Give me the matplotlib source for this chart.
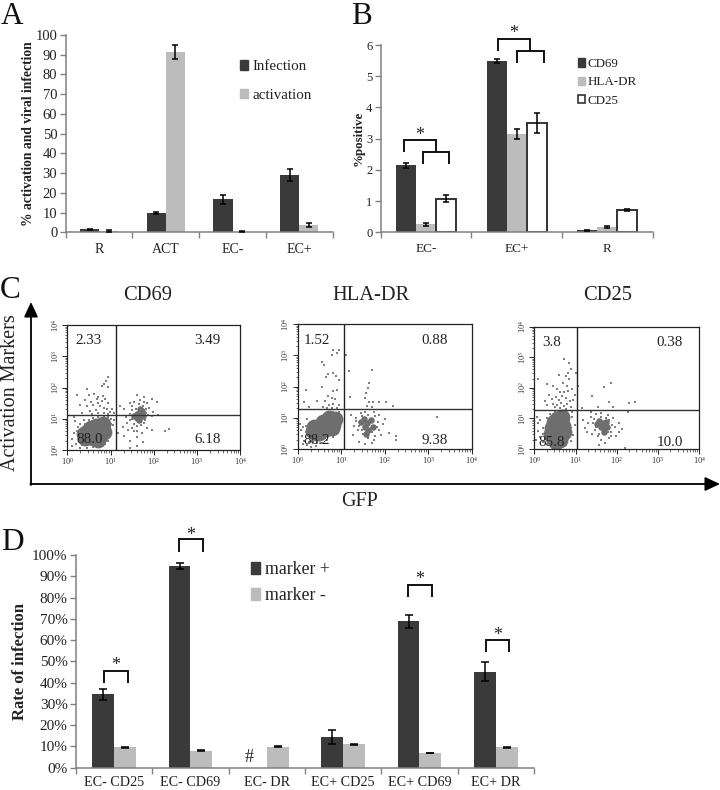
import numpy as np
import matplotlib
matplotlib.use("Agg")
import matplotlib.pyplot as plt
from matplotlib.patches import Patch

plt.rcParams['font.family'] = ['Liberation Serif', 'DejaVu Serif']
W, H = 720, 790
DARK, LIGHT, AXC, TXT = '#3a3a3a', '#bcbcbc', '#808080', '#222222'

# ---------- Panel A
a_cats = ['R', 'ACT', 'EC-', 'EC+']
a_infection = [1.5, 9.8, 16.7, 29.0]
a_activation = [0.5, 91.5, 0.4, 3.6]
a_inf_err = [0.4, 0.4, 2.3, 3.0]
a_act_err = [0.5, 3.5, 0.1, 0.9]

# ---------- Panel B
b_cats = ['EC-', 'EC+', 'R']
b_cd69 = [2.14, 5.49, 0.06]
b_hla = [0.26, 3.15, 0.17]
b_cd25 = [1.07, 3.50, 0.72]
b_cd69_err = [0.07, 0.07, 0.02]
b_hla_err = [0.05, 0.16, 0.02]
b_cd25_err = [0.11, 0.32, 0.03]

# ---------- Panel D
d_cats = ['EC- CD25', 'EC- CD69', 'EC- DR', 'EC+ CD25', 'EC+ CD69', 'EC+ DR']
d_pos = [34.5, 95.0, 0.0, 14.5, 68.8, 45.1]
d_neg = [9.6, 7.9, 9.9, 11.0, 6.9, 9.6]
d_pos_err = [2.7, 1.4, 0.0, 3.2, 3.0, 4.4]
d_neg_err = [0.2, 0.2, 0.2, 0.2, 0.2, 0.2]

# ---------- Panel C: event positions, in log10 units
c1_dense = [(.42,.40),(.50,.42),(.62,.55),(.72,.65),(.60,.38),(.80,.72),(.48,.60),(.75,.45),(.66,.78),
            (.55,.72),(.85,.58),(.70,.32),(.38,.52),(.82,.82)]
c1_core2 = [(1.68,1.12),(1.72,1.25),(1.62,1.02),(1.60,1.15),(1.75,1.08),(1.68,1.30),(1.66,.95),(1.55,1.08)]
c1_sparse = [(.93,2.33),(.90,2.22),(.85,2.12),(.80,2.05),(.93,2.03),(.45,1.95),(.50,1.75),(.62,1.80),(.72,1.70),
 (.80,1.58),(.88,1.62),(.95,1.50),(.55,1.55),(.40,1.60),(.22,1.78),(.30,1.45),(.45,1.40),(.60,1.45),(.72,1.50),
 (.76,1.42),(.84,1.36),(.92,1.30),(.66,1.28),(.52,1.25),(.98,1.22),(1.04,1.30),(1.08,1.18),(.35,1.20),(.15,1.05),
 (.10,.35),(.15,.55),(.20,.20),(.12,.12),(.30,.08),(.45,.05),(.60,.10),(.75,.15),(.95,.28),(1.02,.55),(1.05,.80),
 (.35,.15),(.25,.75),(.18,.92),(1.00,1.00),(.88,.18),(1.08,.95),(1.22,1.40),(1.30,1.30),(1.45,1.50),(1.62,1.75),
 (1.78,1.70),(1.95,1.65),(2.08,1.55),(1.85,1.50),(1.90,1.35),(1.98,1.22),(2.10,1.12),(1.50,1.40),(1.55,1.55),
 (1.82,1.20),(1.95,1.08),(1.80,.95),(1.70,.80),(1.85,.72),(1.55,.85),(1.45,.95),(1.35,1.05),(1.28,.75),(1.40,.65),
 (1.55,.60),(1.72,.55),(1.60,.42),(1.45,.30),(1.30,.45),(1.18,.55),(1.95,.65),(2.35,.68),(2.25,.62),(1.62,.12),
 (1.45,.08),(1.75,.25),(1.50,.70),(1.75,1.40),(1.66,1.48),
 (.30,.30),(.25,.45),(.22,.62),(.30,.85),(.38,.95),(.48,.18),(.62,.15),(.78,.24),(.90,.38),(.98,.62),(1.00,.85),
 (.95,1.05),(.85,1.08),(.72,1.05),(.60,1.02),(.50,.95),(.42,.82),(.72,1.18),(.85,1.20),(.95,1.14),(.58,1.15),
 (1.50,1.28),(1.58,1.32),(1.82,1.32),(1.86,1.12),(1.78,.88),(1.62,.78),(1.50,.98),(1.44,1.15),(1.60,.62),(1.38,.88),
 (1.78,1.55),(1.68,1.60),(.68,1.62),(.82,1.72)]

c2_dense = [(.45,.62),(.55,.70),(.65,.80),(.75,.88),(.80,.78),(.50,.52),(.65,.65),(.38,.70),
            (.58,.88),(.72,.98),(.42,.50),(.78,.66),(.35,.58),(.85,.95)]
c2_core2 = [(1.60,.82),(1.62,.62),(1.52,.95),(1.68,.92),(1.45,.88),(1.58,.48),(1.72,.72),(1.55,.72)]
c2_sparse = [(.82,3.18),(.96,3.18),(.90,3.08),(.78,3.02),(.55,2.80),(.60,2.70),(.80,2.45),(.88,2.35),(.70,2.40),
 (.65,2.30),(.95,2.20),(.55,2.00),(.20,1.90),(.82,1.85),(.90,1.88),(.70,1.70),(.78,1.65),(.85,1.60),(.62,1.55),
 (.14,1.52),(.45,1.55),(.72,1.42),(.82,1.45),(.25,1.34),(.58,1.36),(.68,1.32),(.78,1.30),(.90,1.32),(.96,1.40),
 (1.12,3.00),(1.18,2.50),(1.70,2.55),(1.65,2.12),(1.62,1.95),(1.58,1.80),(1.55,1.62),(1.20,1.66),(1.65,1.50),
 (1.72,1.52),(1.88,1.50),(2.02,1.52),(1.60,1.38),(1.70,1.34),(2.18,1.38),(1.22,1.10),(1.35,1.00),(1.42,.88),
 (1.30,.75),(1.38,.60),(1.50,.48),(1.62,.35),(1.78,.42),(1.88,.62),(1.95,.80),(2.00,.95),(1.88,1.10),(1.75,1.18),
 (1.55,1.18),(1.45,1.15),(2.10,.52),(2.25,.42),(2.25,.30),(3.20,1.02),(1.55,.15),(1.70,.18),(1.40,.22),(1.28,.45),
 (.05,.80),(.08,.60),(.10,.42),(.15,.25),(.22,.12),(.30,.05),(.42,.10),(.55,.18),(.68,.28),(.80,.40),(.92,.52),
 (.98,.70),(1.00,1.02),(.92,1.12),(.22,.95),(.18,.75),(.30,.35),(.42,.30),
 (.12,.70),(.20,.55),(.28,.45),(.35,.22),(.50,.28),(.62,.35),(.75,.50),(.88,.62),(.95,.85),(.62,1.08),(.48,.98),
 (.35,.90),(.80,1.18),(.70,1.16),(.96,1.18),(.25,.22),(.12,.15),(.45,.18),(1.48,1.05),(1.78,1.05),(1.85,.88),
 (1.82,.72),(1.70,.55),(1.48,.62),(1.40,.75),(1.34,.90),(1.62,1.10),(1.92,.45),(1.75,.30)]

c3_dense = [(.45,.35),(.50,.55),(.58,.75),(.65,.95),(.55,.98),(.60,.50),(.70,.75),(.42,.70),
            (.52,.22),(.62,.30),(.48,.88),(.68,1.05),(.72,.55),(.40,.50)]
c3_core2 = [(1.66,.84),(1.70,.70),(1.58,.92),(1.74,.88),(1.62,.72),(1.68,.55),(1.52,.82),(1.76,.72)]
c3_sparse = [(.72,2.95),(.84,2.80),(.88,2.62),(.82,2.50),(.76,2.38),(.60,2.42),(.85,2.28),(.70,2.15),(.80,2.05),
 (.08,2.28),(.30,2.12),(.45,2.05),(.55,1.95),(.62,1.85),(.72,1.88),(.82,1.90),(.92,1.95),(.35,1.75),(.42,1.62),
 (.52,1.70),(.60,1.60),(.66,1.72),(.76,1.66),(.86,1.58),(.25,1.58),(.30,1.45),(.45,1.48),(.55,1.44),(.65,1.50),
 (.72,1.40),(.80,1.46),(.90,1.38),(.95,1.60),(.50,1.36),(.62,1.34),(.78,1.32),(1.02,2.50),(1.05,2.05),(.98,1.75),
 (1.70,2.02),(1.85,2.17),(1.40,1.72),(1.80,1.55),(2.30,1.52),(2.45,1.55),(1.55,1.38),(1.90,1.38),(1.15,1.35),
 (.06,1.05),(.10,.85),(.08,.60),(.14,.40),(.20,.22),(.05,.30),(.92,1.05),(.98,.80),(.95,.45),(.88,.25),(.78,.12),
 (1.18,.95),(1.22,.70),(1.28,.55),(1.38,1.05),(1.42,.85),(1.48,.62),(1.55,.42),(1.62,.30),(1.72,.20),(1.80,.35),
 (1.58,.12),(1.85,.55),(1.95,.72),(2.05,.85),(2.12,.65),(2.05,.55),(1.90,1.00),(1.78,1.12),(1.62,1.18),(1.50,1.15),
 (1.38,1.22),(2.20,.02),(1.98,.42),(2.28,1.20),
 (.15,.95),(.20,.70),(.22,.50),(.25,.32),(.30,.15),(.85,.95),(.88,.70),(.85,.50),(.82,.32),(.70,.15),(.50,1.22),
 (.62,1.24),(.75,1.22),(.38,1.15),(.30,1.00),(.92,1.22),(1.45,.98),(1.82,.95),(1.88,.78),(1.85,.42),(1.50,.72),
 (1.40,.50),(1.30,.85),(1.62,1.05),(1.75,1.02),(1.58,.50),(1.78,.55)]


def axes_px(l, t, r, b):
    return fig.add_axes([l / W, 1 - b / H, (r - l) / W, (b - t) / H])


def style_bar_axes(ax, ncat, cats, ymax, yticks, xfs, yfs, xpad=8):
    ax.set_xlim(0, ncat)
    ax.set_ylim(0, ymax)
    ax.patch.set_alpha(0)
    for s in ('top', 'right'):
        ax.spines[s].set_visible(False)
    for s in ('left', 'bottom'):
        ax.spines[s].set_color(AXC)
        ax.spines[s].set_linewidth(1.1)
    ax.set_xticks(np.arange(ncat + 1))
    ax.set_xticklabels([])
    ax.set_xticks(np.arange(ncat) + .5, labels=cats, minor=True)
    ax.tick_params(axis='x', which='major', length=4, width=1, color=AXC)
    ax.tick_params(axis='x', which='minor', length=0, pad=xpad, labelsize=xfs, labelcolor=TXT)
    ax.set_yticks(yticks)
    ax.tick_params(axis='y', length=4, width=1, color=AXC, labelsize=yfs, labelcolor=TXT, pad=2)


def err(ax, x, y, e, cap):
    ax.errorbar(x, y, yerr=e, fmt='none', ecolor='black', elinewidth=1.1, capsize=cap, capthick=1.1, zorder=5)


fig = plt.figure(figsize=(W / 100, H / 100), dpi=100, facecolor='white')

# ---- A
axA = axes_px(65.7, 35, 332.7, 232.3)
xA = np.arange(4) + .5
bw = .286
axA.bar(xA - bw / 2, a_infection, bw, color=DARK)
axA.bar(xA + bw / 2, a_activation, bw, color=LIGHT)
err(axA, xA - bw / 2, a_infection, a_inf_err, 2.2)
err(axA, xA + bw / 2, a_activation, a_act_err, 2.2)
style_bar_axes(axA, 4, a_cats, 100, np.arange(0, 101, 10), 10, 10.5)
axA.set_ylabel('% activation and viral infection', fontsize=9.8, fontweight='bold', color=TXT, labelpad=0)
axA.legend(handles=[Patch(color=DARK, label='Infection'), Patch(color=LIGHT, label='activation')],
           frameon=False, loc='upper left', bbox_to_anchor=(.653, .872), fontsize=10.8, borderaxespad=0,
           handlelength=.55, handleheight=.6, handletextpad=.28, labelspacing=1.02, borderpad=0, labelcolor=TXT)

# ---- B
axB = axes_px(380.7, 45, 652.7, 232.3)
xB = np.arange(3) + .5
bw = .22
axB.bar(xB - bw, b_cd69, bw, color=DARK)
axB.bar(xB, b_hla, bw, color=LIGHT)
axB.bar(xB + bw, b_cd25, bw, color='white', edgecolor='#333333', linewidth=1.4)
err(axB, xB - bw, b_cd69, b_cd69_err, 2.2)
err(axB, xB, b_hla, b_hla_err, 2.2)
err(axB, xB + bw, b_cd25, b_cd25_err, 2.2)
style_bar_axes(axB, 3, b_cats, 6, np.arange(0, 7), 9.5, 9)
axB.set_ylabel('%positive', fontsize=9.3, fontweight='bold', color=TXT, labelpad=1)
axB.legend(handles=[Patch(color=DARK, label='CD69'), Patch(color=LIGHT, label='HLA-DR'),
                    Patch(facecolor='white', edgecolor='#333333', linewidth=1.2, label='CD25')],
           frameon=False, loc='upper left', bbox_to_anchor=(.725, .93), fontsize=9.4, borderaxespad=0,
           handlelength=.55, handleheight=.6, handletextpad=.22, labelspacing=.48, borderpad=0, labelcolor=TXT)

# ---- D
axD = axes_px(76, 555, 534, 767.7)
xD = np.arange(6) + .5
bw = .288
axD.bar(xD - bw / 2, d_pos, bw, color=DARK)
axD.bar(xD + bw / 2, d_neg, bw, color=LIGHT)
for i in range(6):
    if d_pos[i] > 0:
        err(axD, xD[i] - bw / 2, d_pos[i], d_pos_err[i], 2.6)
err(axD, xD + bw / 2, d_neg, d_neg_err, 2.6)
style_bar_axes(axD, 6, d_cats, 100, np.arange(0, 101, 10), 10.2, 11, xpad=6)
axD.set_yticklabels([f'{v}%' for v in range(0, 101, 10)])
axD.set_ylabel('Rate of infection', fontsize=12, fontweight='bold', color=TXT, labelpad=3)
axD.legend(handles=[Patch(color=DARK, label='marker +'), Patch(color=LIGHT, label='marker -')],
           frameon=False, loc='upper left', bbox_to_anchor=(.382, .97), fontsize=12.8, borderaxespad=0,
           handlelength=.5, handleheight=.7, handletextpad=.3, labelspacing=.5, borderpad=0, labelcolor=TXT)


# ---- C
def flow(box, dense, core2, sparse, vg, hg):
    ax = axes_px(*box)
    ax.set_xscale('log')
    ax.set_yscale('log')
    ax.set_xlim(1, 1e4)
    ax.set_ylim(1, 1e4)
    gr = '#6e6e6e'
    px, py = zip(*sparse)
    ax.scatter(10 ** np.array(px), 10 ** np.array(py), s=3.5, color='#808080', marker='s', linewidths=0)
    px, py = zip(*dense)
    ax.scatter(10 ** np.array(px), 10 ** np.array(py), s=130, color=gr, linewidths=0)
    px, py = zip(*core2)
    ax.scatter(10 ** np.array(px), 10 ** np.array(py), s=22, color=gr, linewidths=0)
    ax.axvline(10 ** vg, color='#222222', lw=1.0)
    ax.axhline(10 ** hg, color='#333333', lw=1.0)
    for s in ax.spines.values():
        s.set_linewidth(.9)
        s.set_color('#222222')
    ax.tick_params(which='major', length=3.5, width=.6, labelsize=6, pad=1, labelcolor='#333333')
    ax.tick_params(which='minor', length=1.8, width=.4)
    ax.set_xticks([1, 10, 100, 1000, 10000])
    ax.set_yticks([1, 10, 100, 1000, 10000])
    ax.tick_params(axis='y', labelrotation=90)
    for t_ in ax.get_yticklabels():
        t_.set_va('center')
    return ax


flow((67.3, 325.3, 240.3, 450), c1_dense, c1_core2, c1_sparse, 1.12, 1.12)
flow((297.7, 324.3, 471.7, 449), c2_dense, c2_core2, c2_sparse, 1.07, 1.28)
flow((534.3, 326.7, 699.3, 449), c3_dense, c3_core2, c3_sparse, 1.04, 1.275)

# ---- overlay in pixel coordinates for annotations
ov = fig.add_axes([0, 0, 1, 1])
ov.set_xlim(0, W)
ov.set_ylim(H, 0)
ov.axis('off')
ov.patch.set_alpha(0)


def t(x, y, s, fs, **kw):
    ov.text(x, y, s, fontsize=fs, ha=kw.pop('ha', 'center'), va='center', color=kw.pop('color', TXT), **kw)


for x, y, s in [(12, 16, 'A'), (361, 16, 'B'), (10, 290, 'C'), (12, 543, 'D')]:
    t(x, y, s, 22.5, color='#111111')
for x, y, s in [(148, 296, 'CD69'), (371, 295.5, 'HLA-DR'), (607.3, 296, 'CD25')]:
    t(x, y, s, 14.8)
for x, y, s in [(88.7, 340, '2.33'), (207.3, 340, '3.49'), (89.3, 439.3, '88.0'), (207.3, 439.3, '6.18'),
                (316.7, 340, '1.52'), (434.7, 340, '0.88'), (316.7, 440, '88.2'), (434.7, 440, '9.38'),
                (551.7, 342.7, '3.8'), (670, 342.7, '0.38'), (551.7, 442.7, '85.8'), (670, 442.7, '10.0')]:
    t(x, y, s, 10.8)
t(11, 393, 'Activation Markers', 14.5, rotation=90)
t(360, 502, 'GFP', 14.5)
ov.annotate('', xy=(31, 302), xytext=(31, 485), arrowprops=dict(arrowstyle='-|>,head_length=.9,head_width=.42', lw=1.3, color='black', shrinkA=0, shrinkB=0))
ov.annotate('', xy=(720, 484), xytext=(30.3, 484), arrowprops=dict(arrowstyle='-|>,head_length=.9,head_width=.42', lw=1.3, color='black', shrinkA=0, shrinkB=0))


def bracket(x0, x1, top, bot):
    ov.plot([x0, x0, x1, x1], [bot, top, top, bot], color='#111111', lw=1.4, solid_joinstyle='miter', solid_capstyle='butt')


for x0, x1, top, bot in [(404.3, 436.3, 140, 152.3), (422.7, 449.3, 152.3, 164.3),
                         (498.3, 530.3, 39, 51), (517, 543.7, 51.3, 63.3),
                         (104, 127.7, 671, 683.3), (179, 202.7, 539.3, 551.7),
                         (408.3, 432, 585, 597), (486, 509.3, 639.7, 652)]:
    bracket(x0, x1, top, bot)
for x, y in [(420, 136), (514, 34), (115.7, 666), (191, 535), (420, 580), (497.7, 635)]:
    t(x, y, '*', 13)
t(249, 758, '#', 13)

fig.savefig('out.png', dpi=100)
